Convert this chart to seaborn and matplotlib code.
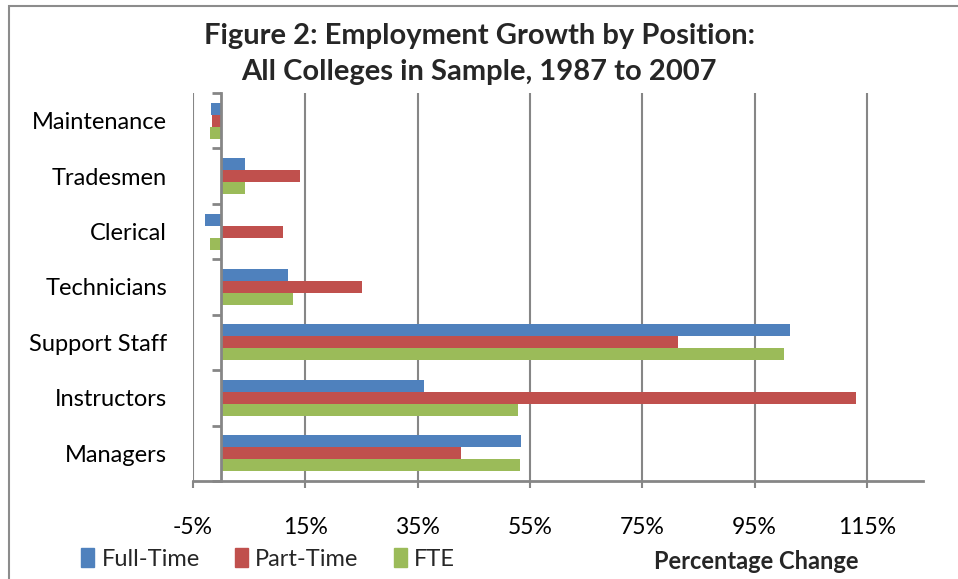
import matplotlib.pyplot as plt
import matplotlib.patches as mpatches
import seaborn as sns
import pandas as pd

# Dados (variação percentual 1987-2007)
posicoes = ["Maintenance", "Tradesmen", "Clerical", "Technicians",
            "Support Staff", "Instructors", "Managers"]
full_time = [-1.8, 4.2, -2.9, 11.9, 101.3, 36.1, 53.4]
part_time = [-1.7, 14.1, 11.1, 25.1, 81.4, 113.1, 42.7]
fte = [-1.9, 4.3, -1.9, 12.8, 100.2, 52.9, 53.2]
series = ["Full-Time", "Part-Time", "FTE"]
cores = ["#4F81BD", "#C0504D", "#9BBB59"]
ticks_x = [-5, 15, 35, 55, 75, 95, 115]

df = pd.DataFrame({
    "posicao": posicoes * 3,
    "valor": full_time + part_time + fte,
    "tipo": [s for s in series for _ in posicoes],
})

sns.set_theme(style="white")
plt.rcParams["font.family"] = ["Lato", "DejaVu Sans"]
cinza = "#868686"

fig = plt.figure(figsize=(9.58, 5.79), dpi=100)
ax = fig.add_axes([0.2015, 0.1693, 0.762, 0.6701])

sns.barplot(data=df, x="valor", y="posicao", hue="tipo", order=posicoes,
            hue_order=series, palette=cores, orient="h", width=0.65,
            saturation=1, edgecolor="none", legend=False, ax=ax)

ax.set_xlim(-5, 125)
ax.set_ylim(6.5, -0.5)
ax.set_xticks(ticks_x)
ax.set_xticklabels([f"{t}%" for t in ticks_x], fontsize=16.5, color="black")
ax.grid(axis="x", color=cinza, linewidth=1.5)
ax.set_axisbelow(True)
ax.set_xlabel("")
ax.set_ylabel("")

# eixo vertical no zero, com marcas entre categorias (estilo Excel)
for lado in ["top", "right"]:
    ax.spines[lado].set_visible(False)
ax.spines["left"].set_position(("data", 0))
ax.spines["left"].set_color(cinza)
ax.spines["left"].set_linewidth(2)
ax.spines["left"].set_zorder(3)
ax.spines["bottom"].set_color(cinza)
ax.spines["bottom"].set_linewidth(2)
ax.set_yticks([i + 0.5 for i in range(-1, 7)], minor=True)
ax.tick_params(axis="y", which="major", length=0, pad=39, labelsize=17,
               labelcolor="black")
ax.tick_params(axis="y", which="minor", left=True, length=6.5, width=2,
               color=cinza, direction="out")
ax.tick_params(axis="x", which="major", bottom=True, length=5, width=1.5,
               color=cinza, pad=21)

fig.suptitle("Figure 2: Employment Growth by Position:\nAll Colleges in Sample, 1987 to 2007",
             x=0.5, y=0.96, fontsize=21, fontweight="bold", linespacing=1.45)

handles = [mpatches.Patch(color=c, label=s) for s, c in zip(series, cores)]
fig.legend(handles=handles, loc="center left", bbox_to_anchor=(0.085, 0.035),
           ncol=3, frameon=False, fontsize=17, handlelength=0.55,
           handleheight=0.9, handletextpad=0.3, columnspacing=1.5,
           borderaxespad=0, borderpad=0)
fig.text(0.789, 0.031, "Percentage Change", ha="center", va="center",
         fontsize=17, fontweight="bold")

# moldura do gráfico
fig.patches.append(mpatches.Rectangle((9 / 958, -0.05), 1.1, 1 - 6 / 579 + 0.05,
                                      transform=fig.transFigure, fill=False,
                                      edgecolor="#8c8c8c", linewidth=1.5))

plt.savefig("out.png", dpi=100)
plt.close()
